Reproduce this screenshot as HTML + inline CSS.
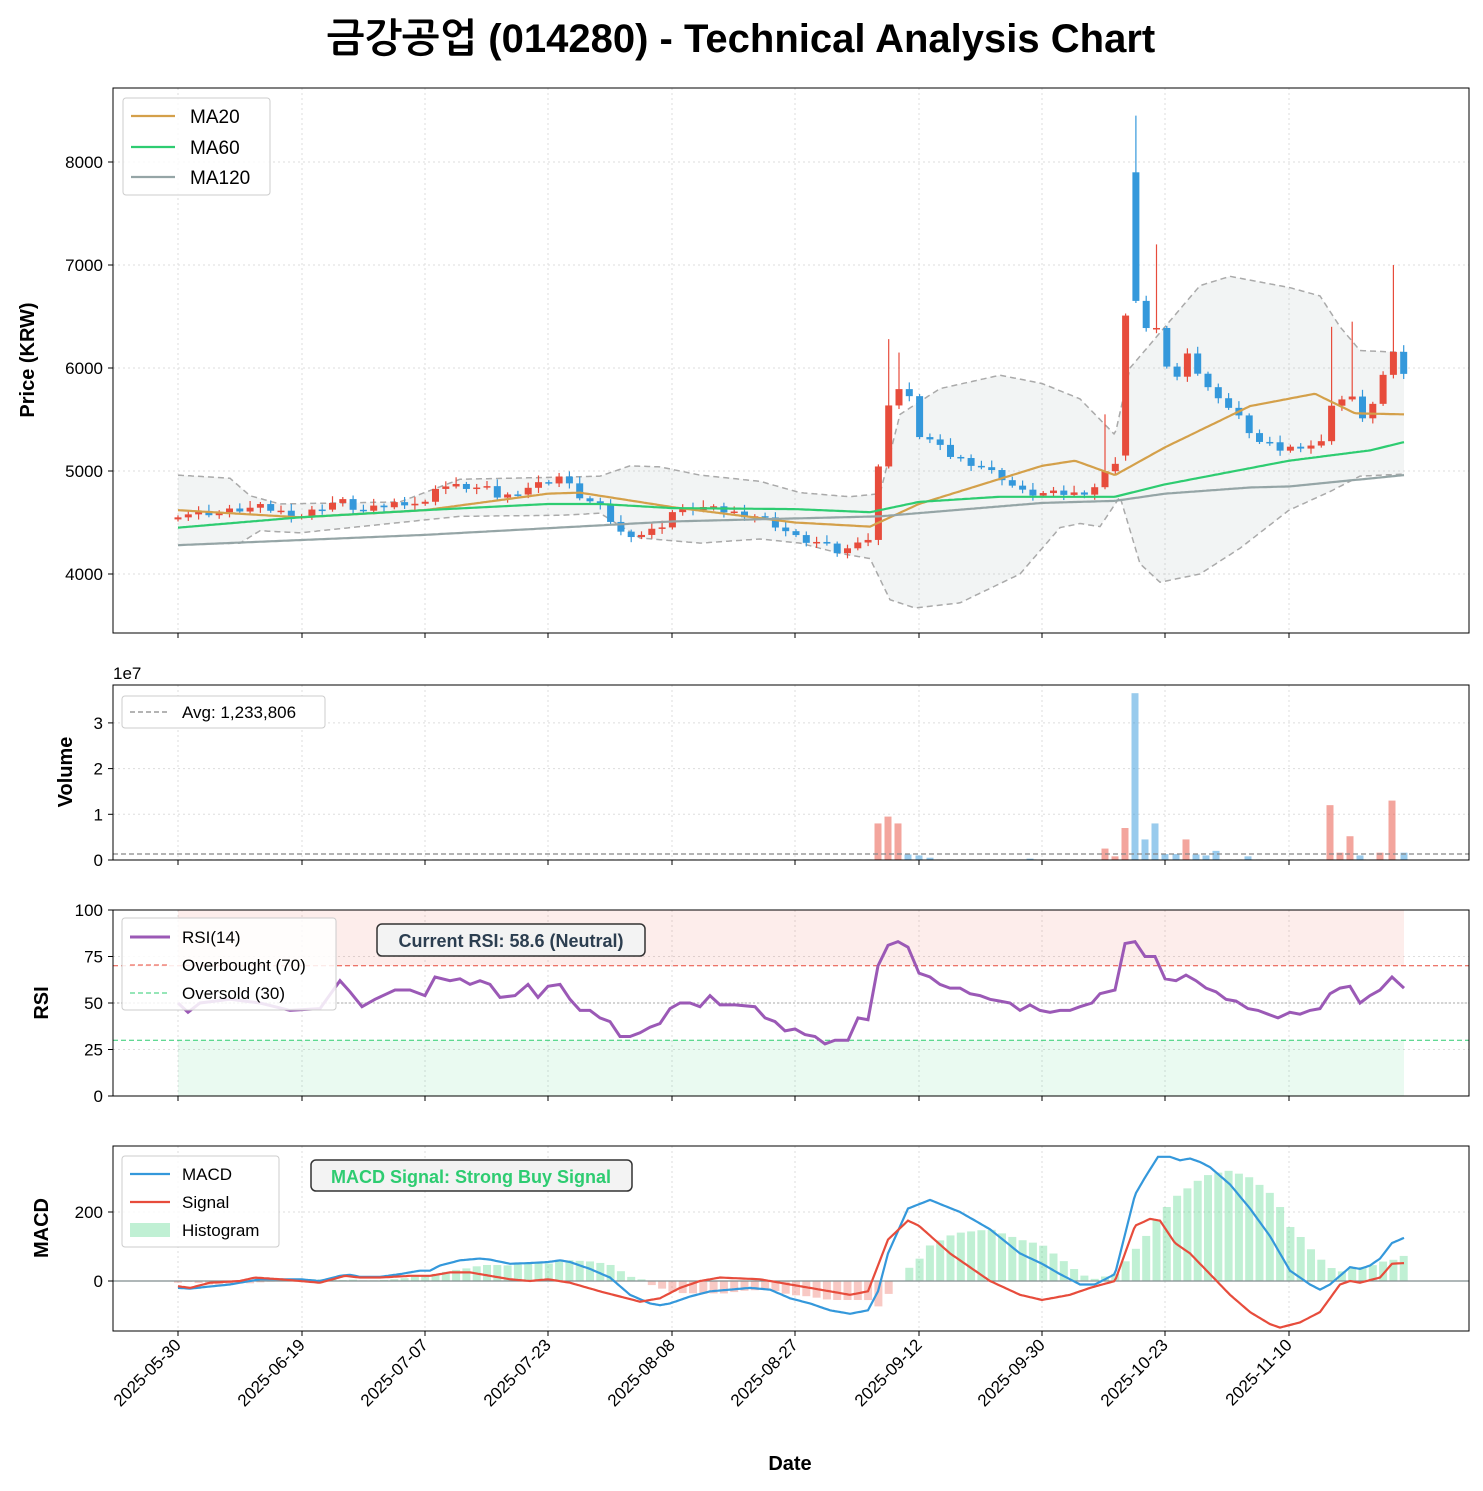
<!DOCTYPE html>
<html><head><meta charset="utf-8">
<style>
html,body{margin:0;padding:0;background:#fff;}
svg{display:block;font-family:"Liberation Sans","NanumGothic","Noto Sans CJK KR",sans-serif;}
</style></head>
<body>
<svg id="s" width="1483" height="1491" viewBox="0 0 1483 1491" xmlns="http://www.w3.org/2000/svg"></svg>
<script>
const S=document.getElementById('s');let h='';
function I(k,x){if(x<=k[0][0])return k[0][1];for(let i=1;i<k.length;i++){if(x<=k[i][0]){const a=k[i-1],b=k[i];return a[1]+(b[1]-a[1])*(x-a[0])/(b[0]-a[0]);}}return k[k.length-1][1];}
function poly(k,fy,st){let p=[];for(let x=k[0][0];x<=k[k.length-1][0];x+=2)p.push(x+','+fy(I(k,x)).toFixed(1));return `<polyline points="${p.join(' ')}" fill="none" ${st}/>`;}
const L=113,R=1469,xt=[178,302,425,548,672,795,919,1042,1165,1289],dl=['2025-05-30','2025-06-19','2025-07-07','2025-07-23','2025-08-08','2025-08-27','2025-09-12','2025-09-30','2025-10-23','2025-11-10'];
h+=`<rect width="1483" height="1491" fill="#fff"/>`;
h+=`<text x="741" y="52" font-size="40" font-weight="bold" text-anchor="middle">금강공업 (014280) - Technical Analysis Chart</text>`;
function frame(t,b,yt,fy){let g='';xt.forEach(x=>g+=`<line x1="${x}" y1="${t}" x2="${x}" y2="${b}" stroke="#ddd" stroke-dasharray="2,3"/>`);
yt.forEach(v=>{const y=fy(v);g+=`<line x1="${L}" y1="${y}" x2="${R}" y2="${y}" stroke="#ddd" stroke-dasharray="2,3"/><line x1="${L-5}" y1="${y}" x2="${L}" y2="${y}" stroke="#000"/><text x="${L-10}" y="${y+6}" font-size="17" text-anchor="end">${v}</text>`;});
xt.forEach(x=>g+=`<line x1="${x}" y1="${b}" x2="${x}" y2="${b+5}" stroke="#000"/>`);return g;}
// price
const py=p=>574-(p-4000)*0.103;
h+=frame(88,633,[4000,5000,6000,7000,8000],py);
const up=[[178,4960],[230,4930],[250,4760],[280,4680],[400,4700],[460,4920],[560,4940],[600,4950],[630,5050],[660,5040],[700,4960],[760,4900],[800,4790],[850,4750],[880,4780],[900,5550],[940,5800],[1000,5930],[1042,5850],[1080,5700],[1100,5500],[1115,5350],[1130,6000],[1165,6400],[1200,6800],[1230,6890],[1290,6780],[1320,6700],[1340,6400],[1360,6170],[1404,6150]];
const lo=[[178,4280],[240,4300],[260,4420],[300,4400],[400,4500],[460,4560],[560,4570],[600,4590],[640,4350],[700,4300],[760,4340],[800,4300],[840,4200],[870,4150],[890,3750],[915,3670],[960,3720],[1020,4000],[1060,4450],[1080,4490],[1100,4460],[1120,4750],[1140,4100],[1160,3920],[1200,4000],[1240,4250],[1289,4620],[1330,4800],[1360,4950],[1404,4970]];
{let p=[];for(let x=178;x<=1404;x+=2)p.push(x+','+py(I(up,x)).toFixed(1));for(let x=1404;x>=178;x-=2)p.push(x+','+py(I(lo,x)).toFixed(1));h+=`<polygon points="${p.join(' ')}" fill="#95a5a6" fill-opacity="0.12"/>`;}
h+=poly(up,py,'stroke="#aaa" stroke-width="1.5" stroke-dasharray="6,4"');h+=poly(lo,py,'stroke="#aaa" stroke-width="1.5" stroke-dasharray="6,4"');
const ck=[[178,4580],[220,4600],[260,4650],[300,4560],[340,4720],[360,4600],[400,4700],[425,4680],[435,4850],[460,4850],[490,4820],[500,4730],[530,4850],[548,4900],[560,4950],[570,4850],[580,4750],[600,4650],[620,4400],[640,4380],[660,4450],[672,4600],[700,4650],[730,4600],[760,4560],[780,4450],[800,4330],[820,4300],[840,4200],[850,4250],[860,4360],[868,4330],[878,5000],[888,5650],[898,5800],[908,5750],[919,5350],[930,5300],[950,5150],[980,5050],[1000,4950],[1020,4800],[1030,4780],[1080,4780],[1095,4850],[1105,4980],[1115,5050],[1125,6500],[1135,6650],[1145,6400],[1155,6450],[1165,6000],[1176,5900],[1186,6150],[1196,6000],[1206,5850],[1216,5700],[1226,5650],[1236,5600],[1248,5350],[1258,5300],[1268,5300],[1278,5150],[1290,5250],[1300,5200],[1310,5280],[1320,5250],[1330,5600],[1340,5700],[1350,5800],[1360,5450],[1370,5600],[1380,5850],[1392,6150],[1404,5950]];
let prev=4530;
for(let i=0;i<=119;i++){const x=178+i*10.3;let c=I(ck,x)+((i*37)%11-5)*6,o=prev;if(Math.abs(x-1135)<5){o=7900;}if(Math.abs(x-1125)<5){o=5150;}
const red=c>=o;const col=red?'#e74c3c':'#3498db';let hi=Math.max(o,c)+20+(i%4)*15,lw=Math.min(o,c)-20-(i%3)*15;
if(Math.abs(x-1135)<5)hi=8450;if(Math.abs(x-888)<5)hi=6280;if(Math.abs(x-898)<5)hi=6150;if(Math.abs(x-1155)<5)hi=7200;if(Math.abs(x-1392)<5)hi=7000;if(Math.abs(x-1330)<5)hi=6400;if(Math.abs(x-1350)<5)hi=6450;if(Math.abs(x-1105)<5)hi=5550;
h+=`<line x1="${x}" y1="${py(hi)}" x2="${x}" y2="${py(lw)}" stroke="${col}" stroke-width="1.2"/>`;
const t=py(Math.max(o,c)),bb=py(Math.min(o,c));h+=`<rect x="${x-3.5}" y="${t}" width="7" height="${Math.max(1.5,bb-t)}" fill="${col}"/>`;prev=c;}
const m20=[[178,4620],[300,4550],[425,4620],[548,4780],[580,4790],[672,4650],[795,4500],[870,4460],[919,4680],[1042,5050],[1075,5100],[1115,4960],[1165,5230],[1250,5630],[1315,5750],[1355,5560],[1404,5550]];
const m60=[[178,4450],[300,4550],[425,4620],[548,4680],[600,4680],[672,4640],[795,4630],[870,4600],[919,4700],[1000,4750],[1115,4750],[1165,4870],[1289,5100],[1370,5200],[1404,5280]];
const m120=[[178,4280],[425,4380],[672,4510],[880,4560],[1042,4690],[1115,4710],[1165,4780],[1250,4840],[1289,4850],[1404,4960]];
h+=poly(m20,py,'stroke="#d4a04a" stroke-width="2.2"');h+=poly(m60,py,'stroke="#2ecc71" stroke-width="2.2"');h+=poly(m120,py,'stroke="#95a5a6" stroke-width="2.2"');
h+=`<rect x="${L}" y="88" width="${R-L}" height="545" fill="none" stroke="#000"/>`;
h+=`<rect x="123" y="98" width="147" height="97" rx="3" fill="#fff" fill-opacity="0.85" stroke="#ccc"/>`;
[['MA20','#d4a04a',116],['MA60','#2ecc71',147],['MA120','#95a5a6',177]].forEach(a=>h+=`<line x1="131" y1="${a[2]}" x2="175" y2="${a[2]}" stroke="${a[1]}" stroke-width="2.2"/><text x="190" y="${a[2]+7}" font-size="19">${a[0]}</text>`);
h+=`<text transform="translate(34,360) rotate(-90)" font-size="20" font-weight="bold" text-anchor="middle">Price (KRW)</text>`;
// volume
const vy=v=>860-v*45.7;
h+=frame(685,860,[0,1,2,3],vy);
h+=`<text x="113" y="679" font-size="17">1e7</text>`;
const vb=[[878,8,1],[888,9.5,1],[898,8,1],[908,1.2,0],[919,1,0],[930,.5,0],[1030,.3,0],[1105,2.5,1],[1115,.8,1],[1125,7,1],[1135,36.5,0],[1145,4.5,0],[1155,8,0],[1165,1.3,0],[1176,1.3,0],[1186,4.5,1],[1196,1.2,0],[1206,1,0],[1216,2,0],[1248,.8,0],[1330,12,1],[1340,1.6,1],[1350,5.2,1],[1360,1,0],[1380,1.6,1],[1392,13,1],[1404,1.6,0]];
for(let i=0;i<=119;i++){const x=178+i*10.3;h+=`<rect x="${x-3.5}" y="${vy(0.015)}" width="7" height="${0.015*45.7}" fill="#ccc" fill-opacity="0.5"/>`;}
vb.forEach(b=>{const v=b[1]/10;h+=`<rect x="${b[0]-3.5}" y="${vy(v)}" width="7" height="${v*45.7}" fill="${b[2]?'#e74c3c':'#3498db'}" fill-opacity="0.5"/>`;});
h+=`<line x1="${L}" y1="854" x2="${R}" y2="854" stroke="#888" stroke-width="1.3" stroke-dasharray="5,3"/>`;
h+=`<rect x="${L}" y="685" width="${R-L}" height="175" fill="none" stroke="#000"/>`;
h+=`<rect x="122" y="696" width="203" height="32" rx="3" fill="#fff" stroke="#ccc"/><line x1="130" y1="712" x2="170" y2="712" stroke="#888" stroke-dasharray="5,3" stroke-width="1.3"/><text x="182" y="718" font-size="17">Avg: 1,233,806</text>`;
h+=`<text transform="translate(72,772) rotate(-90)" font-size="20" font-weight="bold" text-anchor="middle">Volume</text>`;
// RSI
const ry=v=>1096-v*1.86;
h+=frame(910,1096,[0,25,50,75,100],ry);
h+=`<rect x="178" y="910" width="1226" height="${ry(70)-910}" fill="#e74c3c" fill-opacity="0.1"/><rect x="178" y="${ry(30)}" width="1226" height="${1096-ry(30)}" fill="#2ecc71" fill-opacity="0.1"/>`;
h+=`<line x1="${L}" y1="${ry(70)}" x2="${R}" y2="${ry(70)}" stroke="#e74c3c" stroke-dasharray="5,3"/><line x1="${L}" y1="${ry(30)}" x2="${R}" y2="${ry(30)}" stroke="#2ecc71" stroke-dasharray="5,3"/><line x1="${L}" y1="${ry(50)}" x2="${R}" y2="${ry(50)}" stroke="#aaa" stroke-dasharray="2,2"/>`;
const rk=[[178,50],[188,45],[200,50],[230,52],[260,50],[290,46],[320,47],[340,62],[350,56],[362,48],[375,52],[395,57],[410,57],[425,54],[435,64],[450,62],[460,63],[470,60],[480,62],[490,60],[500,53],[515,54],[528,60],[538,53],[548,59],[560,60],[570,52],[580,46],[590,46],[600,42],[610,40],[620,32],[630,32],[640,34],[650,37],[660,39],[670,47],[680,50],[690,50],[700,48],[710,54],[720,49],[735,49],[755,48],[765,42],[775,40],[785,35],[795,36],[805,33],[815,32],[825,28],[835,30],[848,30],[858,42],[868,41],[878,70],[888,81],[898,83],[908,80],[919,66],[930,64],[940,60],[950,58],[960,58],[970,55],[980,54],[990,52],[1000,51],[1010,50],[1020,46],[1030,49],[1040,46],[1050,45],[1060,46],[1070,46],[1080,48],[1092,50],[1100,55],[1115,57],[1125,82],[1135,83],[1145,75],[1155,75],[1165,63],[1176,62],[1186,65],[1196,62],[1206,58],[1216,56],[1226,52],[1236,51],[1248,47],[1258,46],[1268,44],[1278,42],[1290,45],[1300,44],[1310,46],[1320,47],[1330,55],[1340,58],[1350,59],[1360,50],[1370,54],[1380,57],[1392,64],[1404,58]];
h+=`<polyline points="${rk.map(p=>p[0]+','+ry(p[1]).toFixed(1)).join(' ')}" fill="none" stroke="#9b59b6" stroke-width="3"/>`;
h+=`<rect x="${L}" y="910" width="${R-L}" height="186" fill="none" stroke="#000"/>`;
h+=`<rect x="122" y="918" width="214" height="92" rx="3" fill="#fff" fill-opacity="0.85" stroke="#ccc"/>`;
h+=`<line x1="130" y1="937" x2="170" y2="937" stroke="#9b59b6" stroke-width="3"/><text x="182" y="943" font-size="17">RSI(14)</text><line x1="130" y1="965" x2="170" y2="965" stroke="#e74c3c" stroke-dasharray="5,3"/><text x="182" y="971" font-size="17">Overbought (70)</text><line x1="130" y1="993" x2="170" y2="993" stroke="#2ecc71" stroke-dasharray="5,3"/><text x="182" y="999" font-size="17">Oversold (30)</text>`;
h+=`<rect x="377" y="924" width="268" height="32" rx="5" fill="#f3f3f3" stroke="#333" stroke-width="1.5"/><text x="511" y="947" font-size="18" font-weight="bold" text-anchor="middle" fill="#2c3e50">Current RSI: 58.6 (Neutral)</text>`;
h+=`<text transform="translate(48,1003) rotate(-90)" font-size="20" font-weight="bold" text-anchor="middle">RSI</text>`;
// MACD
const my=v=>1281-v*0.345;
h+=frame(1146,1331,[0,200],my);
const mk=[[178,-20],[190,-22],[230,-10],[260,5],[300,5],[320,0],[340,15],[350,18],[360,12],[380,12],[400,20],[420,30],[430,30],[440,45],[460,60],[480,65],[490,62],[510,50],[530,52],[548,55],[560,60],[570,55],[590,35],[610,10],[630,-40],[650,-65],[660,-70],[670,-65],[690,-45],[710,-30],[730,-25],[750,-20],[770,-25],[790,-50],[810,-65],[830,-85],[850,-95],[868,-85],[878,-30],[888,80],[908,210],[930,235],[960,200],[990,150],[1020,80],[1042,50],[1060,20],[1080,-10],[1095,-10],[1115,20],[1135,250],[1145,300],[1158,360],[1170,360],[1180,350],[1190,355],[1200,345],[1210,330],[1230,280],[1250,210],[1270,130],[1290,30],[1310,-10],[1320,-25],[1330,-10],[1350,40],[1360,35],[1370,45],[1380,65],[1392,110],[1404,125]];
const sk=[[178,-15],[190,-20],[210,-5],[240,0],[255,10],[280,5],[300,0],[320,-5],[345,15],[360,10],[380,10],[410,15],[430,15],[450,25],[470,25],[490,15],[510,5],[530,0],[548,5],[570,-5],[600,-30],[620,-45],[640,-60],[660,-50],[680,-20],[700,0],[720,10],[760,5],[790,-10],[820,-25],[850,-40],[868,-30],[888,120],[908,175],[919,160],[950,80],[990,0],[1020,-40],[1042,-55],[1070,-40],[1090,-20],[1115,0],[1125,80],[1135,160],[1150,180],[1160,175],[1175,110],[1190,80],[1210,20],[1230,-40],[1250,-90],[1270,-125],[1280,-135],[1300,-120],[1320,-90],[1340,-10],[1350,0],[1360,-5],[1380,10],[1392,50],[1404,52]];
for(let i=0;i<=119;i++){const x=178+i*10.3;const d=I(mk,x)-I(sk,x);const y0=my(0),y1=my(d);h+=`<rect x="${x-4}" y="${Math.min(y0,y1)}" width="8" height="${Math.abs(y1-y0)}" fill="${d>=0?'#2ecc71':'#e74c3c'}" fill-opacity="0.3"/>`;}
h+=`<line x1="${L}" y1="${my(0)}" x2="${R}" y2="${my(0)}" stroke="#7f8c8d" stroke-width="1.2"/>`;
h+=poly(mk,my,'stroke="#3498db" stroke-width="2.2"');h+=poly(sk,my,'stroke="#e74c3c" stroke-width="2.2"');
h+=`<rect x="${L}" y="1146" width="${R-L}" height="185" fill="none" stroke="#000"/>`;
h+=`<rect x="122" y="1156" width="157" height="91" rx="3" fill="#fff" fill-opacity="0.85" stroke="#ccc"/><line x1="130" y1="1174" x2="170" y2="1174" stroke="#3498db" stroke-width="2.2"/><text x="182" y="1180" font-size="17">MACD</text><line x1="130" y1="1202" x2="170" y2="1202" stroke="#e74c3c" stroke-width="2.2"/><text x="182" y="1208" font-size="17">Signal</text><rect x="130" y="1223" width="40" height="14" fill="#2ecc71" fill-opacity="0.3"/><text x="182" y="1236" font-size="17">Histogram</text>`;
h+=`<rect x="311" y="1160" width="321" height="31" rx="5" fill="#f3f3f3" stroke="#333" stroke-width="1.5"/><text x="471" y="1183" font-size="18" font-weight="bold" text-anchor="middle" fill="#2ecc71">MACD Signal: Strong Buy Signal</text>`;
h+=`<text transform="translate(48,1228) rotate(-90)" font-size="20" font-weight="bold" text-anchor="middle">MACD</text>`;
xt.forEach((x,i)=>h+=`<text transform="translate(${x+4},1346) rotate(-45)" font-size="17" text-anchor="end">${dl[i]}</text>`);
h+=`<text x="790" y="1470" font-size="20" font-weight="bold" text-anchor="middle">Date</text>`;
S.innerHTML=h;
</script>
</body></html>
